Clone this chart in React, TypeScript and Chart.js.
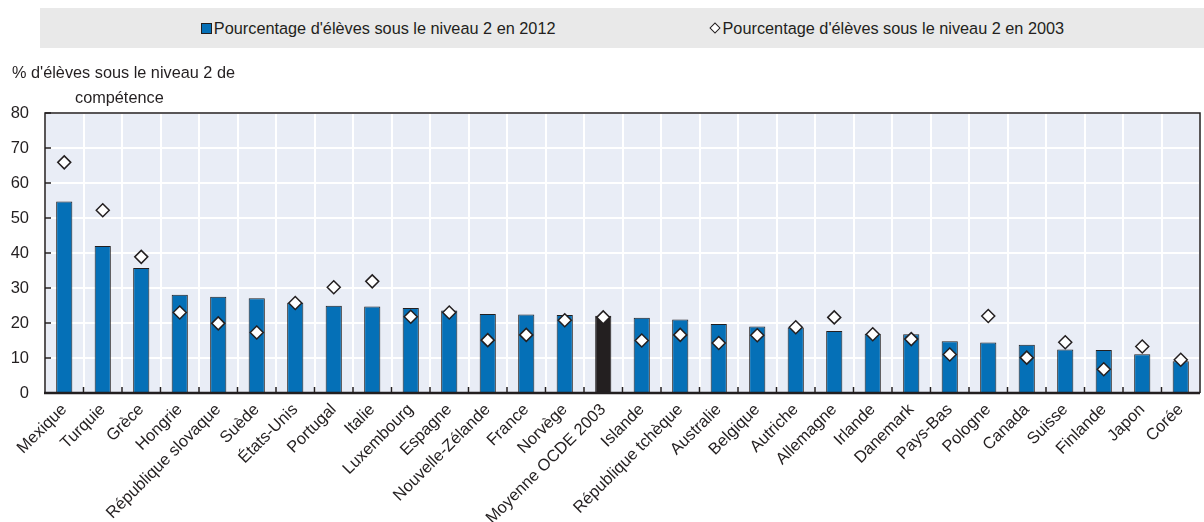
import React, { useEffect, useRef } from "react";
import { Chart, registerables } from "chart.js";

Chart.register(...registerables);

const categories: string[] = [
  "Mexique", "Turquie", "Grèce", "Hongrie", "République slovaque", "Suède", "États-Unis",
  "Portugal", "Italie", "Luxembourg", "Espagne", "Nouvelle-Zélande", "France", "Norvège",
  "Moyenne OCDE 2003", "Islande", "République tchèque", "Australie", "Belgique", "Autriche",
  "Allemagne", "Irlande", "Danemark", "Pays-Bas", "Pologne", "Canada", "Suisse", "Finlande",
  "Japon", "Corée",
];

const values2012: number[] = [
  54.7, 42.0, 35.7, 28.1, 27.5, 27.1, 25.8,
  24.9, 24.7, 24.3, 23.6, 22.6, 22.4, 22.3,
  22.1, 21.5, 21.0, 19.7, 19.0, 18.7,
  17.7, 16.9, 16.8, 14.8, 14.4, 13.8, 12.4, 12.3,
  11.1, 9.1,
];

const values2003: number[] = [
  65.9, 52.2, 38.9, 23.0, 19.9, 17.3, 25.7,
  30.2, 31.9, 21.8, 23.0, 15.1, 16.6, 20.8,
  21.6, 15.0, 16.6, 14.3, 16.5, 18.8,
  21.6, 16.8, 15.4, 11.0, 22.0, 10.1, 14.5, 6.8,
  13.3, 9.5,
];

const yTicks: number[] = [0, 10, 20, 30, 40, 50, 60, 70, 80];
const legendLabels: string[] = [
  "Pourcentage d'élèves sous le niveau 2 en 2012",
  "Pourcentage d'élèves sous le niveau 2 en 2003",
];
const yAxisTitle: string[] = ["% d'élèves sous le niveau 2 de", "compétence"];
const highlightCategory = "Moyenne OCDE 2003";

const BLUE = "#0570b7";
const DARK = "#231f20";
const PLOT_BG = "#e9edf6";
const FONT = "'Liberation Sans', Arial, Helvetica, sans-serif";

const frame = {
  id: "frame",
  beforeDraw(chart: any) {
    const { ctx, chartArea: a } = chart;
    ctx.save();
    ctx.fillStyle = PLOT_BG;
    ctx.fillRect(a.left, a.top, a.right - a.left, a.bottom - a.top);
    ctx.restore();
  },
  afterDatasetsDraw(chart: any) {
    const { ctx, chartArea: a, scales } = chart;
    ctx.save();
    ctx.strokeStyle = DARK;
    ctx.lineWidth = 1.5;
    const n = categories.length;
    for (let i = 1; i < n; i++) {
      const x = (scales.x.getPixelForValue(i - 1) + scales.x.getPixelForValue(i)) / 2;
      ctx.beginPath();
      ctx.moveTo(x, a.bottom);
      ctx.lineTo(x, a.bottom - 6);
      ctx.stroke();
    }
    for (const t of yTicks) {
      const y = scales.y.getPixelForValue(t);
      ctx.beginPath();
      ctx.moveTo(a.left, y);
      ctx.lineTo(a.left + 6, y);
      ctx.stroke();
    }
    ctx.lineWidth = 1.5;
    ctx.beginPath();
    ctx.moveTo(a.left, a.bottom);
    ctx.lineTo(a.left, a.top);
    ctx.lineTo(a.right, a.top);
    ctx.lineTo(a.right, a.bottom);
    ctx.stroke();
    ctx.lineWidth = 2.5;
    ctx.beginPath();
    ctx.moveTo(a.left - 1, a.bottom);
    ctx.lineTo(a.right, a.bottom);
    ctx.stroke();
    ctx.restore();
  },
};

export default function App() {
  const ref = useRef<HTMLCanvasElement | null>(null);

  useEffect(() => {
    if (!ref.current) return;
    const barColors = categories.map((c) => (c === highlightCategory ? DARK : BLUE));
    const chart = new Chart(ref.current, {
      type: "bar",
      data: {
        labels: categories,
        datasets: [
          {
            type: "line",
            label: legendLabels[1],
            data: values2003,
            showLine: false,
            pointStyle: "rectRot",
            pointRadius: 6.5,
            pointHoverRadius: 6.5,
            pointBackgroundColor: "#ffffff",
            pointBorderColor: DARK,
            pointBorderWidth: 1.5,
            order: 0,
          } as any,
          {
            type: "bar",
            label: legendLabels[0],
            data: values2012,
            backgroundColor: barColors,
            borderColor: DARK,
            borderWidth: 1,
            categoryPercentage: 1,
            barPercentage: 0.42,
            order: 1,
          },
        ],
      },
      options: {
        animation: false,
        responsive: false,
        maintainAspectRatio: false,
        layout: { padding: { top: 113, left: 0, right: 1, bottom: 0 } },
        plugins: {
          legend: { display: false },
          tooltip: { enabled: false },
          title: { display: false },
        },
        scales: {
          x: {
            offset: true,
            grid: { color: "#ffffff", lineWidth: 2, drawTicks: false, offset: true },
            border: { display: false },
            ticks: {
              autoSkip: false,
              maxRotation: 45,
              minRotation: 45,
              padding: 7,
              color: DARK,
              font: { family: FONT, size: 16.5 },
            },
            afterFit: (s: any) => {
              s.height = 129;
              s.paddingLeft = 0;
              s.paddingRight = 0;
            },
          },
          y: {
            min: 0,
            max: 80,
            grid: { color: "#ffffff", lineWidth: 2, drawTicks: false },
            border: { display: false },
            ticks: {
              stepSize: 10,
              padding: 16,
              color: DARK,
              font: { family: FONT, size: 16.5 },
            },
            afterFit: (s: any) => {
              s.width = 45;
            },
          },
        },
      },
      plugins: [frame],
    });
    return () => chart.destroy();
  }, []);

  return (
    <div
      style={{
        position: "absolute",
        left: 0,
        top: 0,
        width: 1204,
        height: 522,
        overflow: "hidden",
        background: "#ffffff",
        fontFamily: FONT,
        color: DARK,
      }}
    >
      <canvas ref={ref} width={1208} height={522} style={{ position: "absolute", left: 0, top: 0 }} />
      <div
        style={{
          position: "absolute",
          left: 40,
          top: 8,
          width: 1164,
          height: 40,
          background: "#e9e9e9",
          display: "flex",
          alignItems: "center",
          justifyContent: "center",
          gap: 153,
          fontSize: 16.3,
          paddingLeft: 21,
          boxSizing: "border-box",
        }}
      >
        <div style={{ display: "flex", alignItems: "center" }}>
          <span
            style={{
              display: "inline-block",
              width: 9,
              height: 9,
              background: BLUE,
              border: `1px solid ${DARK}`,
              marginRight: 2,
            }}
          />
          <span>{legendLabels[0]}</span>
        </div>
        <div style={{ display: "flex", alignItems: "center" }}>
          <span
            style={{
              display: "inline-block",
              width: 6,
              height: 6,
              background: "#ffffff",
              border: `1.3px solid ${DARK}`,
              transform: "rotate(45deg)",
              marginLeft: 2,
              marginRight: 4,
            }}
          />
          <span>{legendLabels[1]}</span>
        </div>
      </div>
      <div
        style={{
          position: "absolute",
          left: 12,
          top: 60,
          fontSize: 16.3,
          lineHeight: "25px",
          whiteSpace: "nowrap",
        }}
      >
        <div>{yAxisTitle[0]}</div>
        <div style={{ paddingLeft: 63 }}>{yAxisTitle[1]}</div>
      </div>
    </div>
  );
}
